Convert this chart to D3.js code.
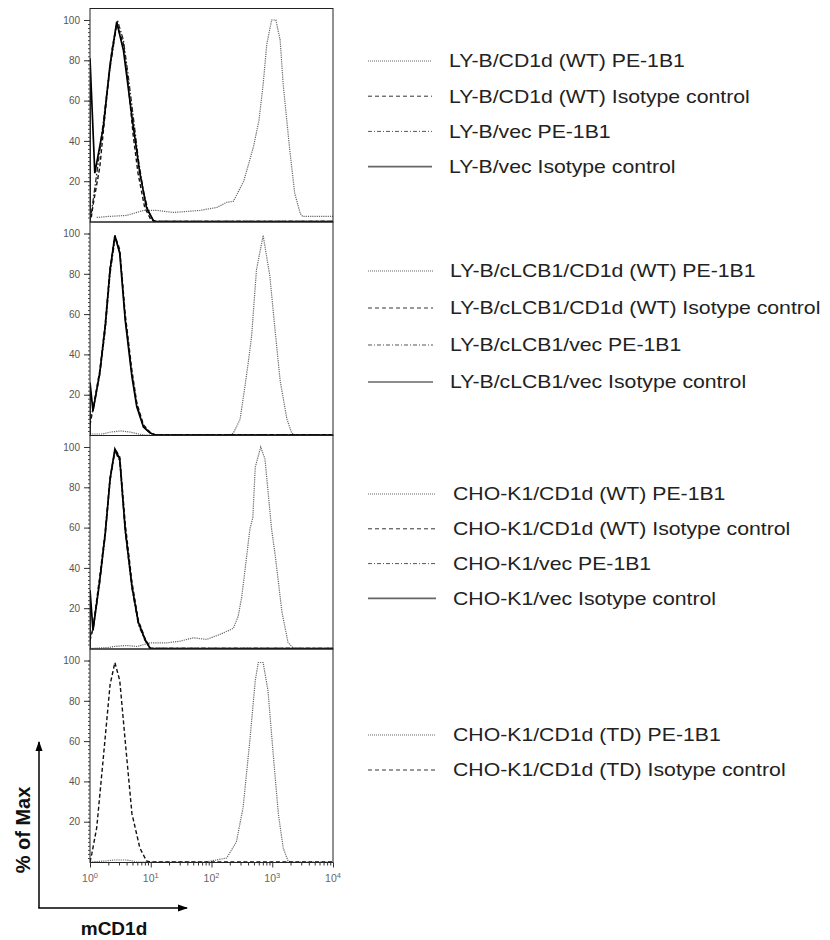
<!DOCTYPE html>
<html>
<head>
<meta charset="utf-8">
<script src="https://cdn.jsdelivr.net/npm/d3@7"></script>
<style>
  body { margin: 0; background: #fff; }
  svg { display: block; font-family: "Liberation Sans", Arial, sans-serif; }
</style>
</head>
<body>
<div id="chart"></div>
<script>
var width = 830;
var height = 940;

// legend labels, one list per panel
var labels1 = ["LY-B/CD1d (WT) PE-1B1", "LY-B/CD1d (WT) Isotype control", "LY-B/vec PE-1B1", "LY-B/vec Isotype control"];
var labels2 = ["LY-B/cLCB1/CD1d (WT) PE-1B1", "LY-B/cLCB1/CD1d (WT) Isotype control", "LY-B/cLCB1/vec PE-1B1", "LY-B/cLCB1/vec Isotype control"];
var labels3 = ["CHO-K1/CD1d (WT) PE-1B1", "CHO-K1/CD1d (WT) Isotype control", "CHO-K1/vec PE-1B1", "CHO-K1/vec Isotype control"];
var labels4 = ["CHO-K1/CD1d (TD) PE-1B1", "CHO-K1/CD1d (TD) Isotype control"];

var yTicks = [20, 40, 60, 80, 100];
var xTicks = [1, 10, 100, 1000, 10000];

// histograms: [mCD1d intensity, % of max]
var p1WtPe = [[1.29,2],[2,2.5],[3.98,3],[7.59,5.5],[12.6,5.5],[23.4,4.5],[39.8,5],[64.6,5.5],[123,7],[178,9.5],[229,10],[339,20],[490,37],[603,50],[708,68],[813,88],[977,100],[1148,100],[1349,90],[1514,68],[1950,35],[2344,14],[2884,4],[3162,2.5],[5012,2.5],[10000,2.5]];
var p1WtIso = [[1.05,2],[1.12,8],[1.45,27],[1.86,60],[2.29,85],[2.75,98],[3.2,92],[3.55,88],[4.27,68],[5.13,43],[6.17,24],[7.94,7],[10,1],[12,0],[10000,0]];
var p1VecPe = [[1.05,4],[1.12,10],[1.45,35],[2,70],[2.82,100],[3.55,90],[4.27,72],[5.25,50],[6.31,30],[7.59,15],[9.12,5],[11.2,0],[10000,0]];
var p1VecIso = [[1,0],[1,81],[1.2,24],[1.66,47],[2.14,78],[2.75,99],[3.55,85],[4.9,52],[6.61,24],[8.51,7],[11,0.5],[12,0],[10000,0]];

var p2WtPe = [[1,0.5],[1.6,0.5],[2.2,1.5],[3.2,2],[4.5,1.5],[6.3,0.5],[8,0],[200,0],[229,1],[295,7.7],[355,24],[407,37],[457,49],[550,82],[708,99],[912,79],[1096,54],[1349,27],[1738,8],[2089,1],[2400,0],[10000,0]];
var p2WtIso = [[1,5],[1.12,13],[1.45,32],[1.78,55],[2.14,83],[2.57,99],[3.09,92],[3.8,60],[4.9,32],[5.89,16],[7.59,5],[10,1],[12,0],[10000,0]];
var p2VecPe = [[1,8],[1.12,12],[1.45,30],[1.78,52],[2.14,80],[2.6,98],[3.09,91],[3.8,58],[4.9,30],[5.89,15],[7.59,4],[9.77,1],[12,0],[10000,0]];
var p2VecIso = [[1,0],[1,26],[1.12,12],[1.45,31],[1.78,54],[2.14,82],[2.57,99],[3.09,90],[3.8,57],[4.9,29],[5.89,14],[7.59,4],[9.77,1],[12,0],[10000,0]];

var p3WtPe = [[1,0],[2,0.5],[2.5,1],[4,1.5],[6,1],[9.77,2.8],[18.2,2.8],[30.2,3.6],[50.1,5.3],[83.2,4.5],[138,7],[229,10],[275,16],[316,26],[380,46],[427,59],[479,65],[525,90],[646,100],[759,94],[871,75],[977,59],[1122,46],[1445,18],[1820,3],[2239,0],[10000,0]];
var p3WtIso = [[1,4],[1.12,10],[1.45,36],[1.78,58],[2.14,85],[2.6,99],[3.09,95],[3.8,62],[4.9,33],[6.24,14],[8.04,5],[10,0],[10000,0]];
var p3VecPe = [[1,6],[1.12,9],[1.45,33],[1.78,56],[2.14,83],[2.57,98],[3.09,93],[3.8,58],[4.9,30],[6.24,12],[8.04,4],[9.77,0],[10000,0]];
var p3VecIso = [[1,0],[1,29],[1.12,9],[1.45,34],[1.78,57],[2.14,84],[2.57,99],[3.09,94],[3.8,59],[4.9,31],[6.24,13],[8.04,4.5],[9.77,0],[10000,0]];

var p4TdPe = [[1,0],[1.8,0.5],[2.5,1],[4,1],[5,0.5],[6,0],[80,0],[178,2],[257,10],[331,27],[427,60],[525,90],[589,99],[708,99],[851,85],[1047,52],[1259,24],[1514,7],[1820,0.5],[2000,0],[10000,0]];
var p4TdIso = [[1,0],[1.07,4],[1.29,17],[1.66,52],[2.14,88],[2.57,99],[3.09,90],[3.8,60],[4.9,24],[6.61,7],[8.51,0.5],[10,0],[10000,0]];

var panels = [
    { series: [p1WtPe, p1WtIso, p1VecPe, p1VecIso], kinds: ["pe","iso","vecPe","vecIso"], labels: labels1, legendTop: 61, legendGap: 35.2, lineEnd: 432, textX: 449 },
    { series: [p2WtPe, p2WtIso, p2VecPe, p2VecIso], kinds: ["pe","iso","vecPe","vecIso"], labels: labels2, legendTop: 271, legendGap: 37, lineEnd: 433, textX: 450 },
    { series: [p3WtPe, p3WtIso, p3VecPe, p3VecIso], kinds: ["pe","iso","vecPe","vecIso"], labels: labels3, legendTop: 494, legendGap: 34.8, lineEnd: 436, textX: 453 },
    { series: [p4TdPe, p4TdIso], kinds: ["pe","iso"], labels: labels4, legendTop: 735, legendGap: 35, lineEnd: 436, textX: 453 }
];

var lineStyle = {
    pe:     { stroke: "#666", width: 1.2, dash: "1.2,1" },
    iso:    { stroke: "#111", width: 1.4, dash: "4,2.5" },
    vecPe:  { stroke: "#222", width: 1.3, dash: "5,2,1.5,2" },
    vecIso: { stroke: "#000", width: 1.7, dash: null }
};
var swatchStyle = {
    pe:     { stroke: "#666", width: 1, dash: "1,1" },
    iso:    { stroke: "#333", width: 1, dash: "4,3" },
    vecPe:  { stroke: "#555", width: 1, dash: "4,2,1,2" },
    vecIso: { stroke: "#666", width: 1.6, dash: null }
};

var svg = d3.select("#chart")
    .append("svg")
    .attr("width", width)
    .attr("height", height);

svg.append("defs").append("marker")
    .attr("id", "arrow")
    .attr("viewBox", "0 0 10 10")
    .attr("refX", 9).attr("refY", 5)
    .attr("markerWidth", 7).attr("markerHeight", 7)
    .attr("orient", "auto")
    .append("path")
        .attr("d", "M0,1.5 L10,5 L0,8.5 Z")
        .attr("fill", "#000");

var left = 90, right = 333;
var panelTop = 8.5, panelH = 213.5;

var x = d3.scaleLog().domain([1, 10000]).range([left, right]);

panels.forEach(function(p, i){
    var top = panelTop + i * panelH;
    var bottom = top + panelH;
    var y = d3.scaleLinear().domain([0, 100]).range([bottom - 0.5, bottom - 202]);
    var g = svg.append("g").attr("class", "panel");

    g.append("clipPath").attr("id", "clip" + i)
        .append("rect")
            .attr("x", left).attr("y", top)
            .attr("width", right - left).attr("height", panelH);

    var line = d3.line()
        .x(function(d){ return x(d[0]); })
        .y(function(d){ return y(d[1]); });

    g.append("g")
        .attr("clip-path", "url(#clip" + i + ")")
        .selectAll("path")
        .data(p.series)
        .enter()
            .append("path")
            .attr("d", line)
            .attr("fill", "none")
            .attr("stroke", function(d,j){ return lineStyle[p.kinds[j]].stroke; })
            .attr("stroke-width", function(d,j){ return lineStyle[p.kinds[j]].width; })
            .attr("stroke-dasharray", function(d,j){ return lineStyle[p.kinds[j]].dash; });

    g.append("rect")
        .attr("x", left).attr("y", top)
        .attr("width", right - left).attr("height", panelH)
        .attr("fill", "none")
        .attr("stroke", "#222")
        .attr("stroke-width", 1);

    // y axis, major and minor ticks
    var minor = g.append("g")
        .attr("transform", "translate(" + left + ",0)")
        .call(d3.axisLeft(y).tickValues(d3.range(2, 101, 2)).tickSize(2).tickFormat(""));
    minor.select(".domain").remove();
    minor.selectAll("line").attr("stroke", "#444");

    var major = g.append("g")
        .attr("transform", "translate(" + left + ",0)")
        .call(d3.axisLeft(y).tickValues(yTicks).tickSize(6).tickPadding(4));
    major.select(".domain").remove();
    major.selectAll("line").attr("stroke", "#333");
    major.selectAll("text")
        .attr("font-size", "10px")
        .attr("fill", "#555")
        .attr("font-family", "Liberation Sans, Arial, sans-serif");

    // legend
    var leg = g.append("g").selectAll("g")
        .data(p.labels)
        .enter()
            .append("g")
            .attr("transform", function(d,j){ return "translate(0," + (p.legendTop + j * p.legendGap) + ")"; });

    leg.append("line")
        .attr("x1", 368).attr("x2", p.lineEnd)
        .attr("y1", 0).attr("y2", 0)
        .attr("stroke", function(d,j){ return swatchStyle[p.kinds[j]].stroke; })
        .attr("stroke-width", function(d,j){ return swatchStyle[p.kinds[j]].width; })
        .attr("stroke-dasharray", function(d,j){ return swatchStyle[p.kinds[j]].dash; });

    leg.append("text")
        .attr("transform", "translate(" + p.textX + ",0) scale(1.18,1)")
        .attr("dy", "0.35em")
        .attr("font-size", "18px")
        .attr("fill", "#222")
        .text(function(d){ return d; });

    if (i === panels.length - 1) {
        var minorX = [];
        [1, 10, 100, 1000].forEach(function(dec){
            for (var k = 2; k <= 9; k++) minorX.push(dec * k);
        });
        var ax1 = g.append("g")
            .attr("transform", "translate(0," + bottom + ")")
            .call(d3.axisBottom(x).tickValues(minorX).tickSize(3).tickFormat(""));
        ax1.select(".domain").remove();
        ax1.selectAll("line").attr("stroke", "#333");

        var ax2 = g.append("g")
            .attr("transform", "translate(0," + bottom + ")")
            .call(d3.axisBottom(x).tickValues(xTicks).tickSize(5).tickFormat(""));
        ax2.select(".domain").remove();
        ax2.selectAll("line").attr("stroke", "#333");

        var tl = g.append("g").selectAll("text")
            .data(xTicks)
            .enter()
                .append("text")
                .attr("x", function(d){ return x(d); })
                .attr("y", bottom + 19)
                .attr("text-anchor", "middle")
                .attr("font-size", "10.5px")
                .attr("fill", "#666");
        tl.append("tspan").text("10");
        tl.append("tspan")
            .attr("dy", "-4")
            .attr("font-size", "7.5px")
            .text(function(d){ return Math.round(Math.log10(d)); });
    }
});

// axis arrows and titles
svg.append("line")
    .attr("x1", 39).attr("y1", 908).attr("x2", 39).attr("y2", 742)
    .attr("stroke", "#000").attr("stroke-width", 1.5)
    .attr("marker-end", "url(#arrow)");
svg.append("line")
    .attr("x1", 38.25).attr("y1", 908).attr("x2", 187).attr("y2", 908)
    .attr("stroke", "#000").attr("stroke-width", 1.5)
    .attr("marker-end", "url(#arrow)");

svg.append("text")
    .attr("transform", "translate(30,830) rotate(-90)")
    .attr("text-anchor", "middle")
    .attr("font-size", "20px")
    .attr("font-weight", "bold")
    .attr("fill", "#111")
    .text("% of Max");

svg.append("text")
    .attr("x", 114).attr("y", 935)
    .attr("text-anchor", "middle")
    .attr("font-size", "19px")
    .attr("font-weight", "bold")
    .attr("fill", "#111")
    .text("mCD1d");
</script>
</body>
</html>
